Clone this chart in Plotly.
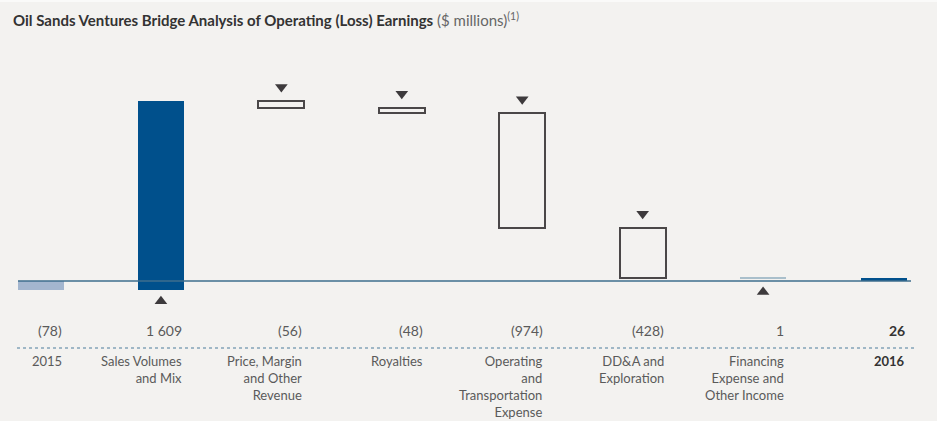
import plotly.graph_objects as go

# ---- data ----
categories = ["2015", "Sales Volumes<br>and Mix", "Price, Margin<br>and Other<br>Revenue", "Royalties",
              "Operating<br>and<br>Transportation<br>Expense", "DD&A and<br>Exploration",
              "Financing<br>Expense and<br>Other Income", "<b>2016</b>"]
changes = [-78, 1609, -56, -48, -974, -428, 1, 26]
value_labels = ["(78)", "1 609", "(56)", "(48)", "(974)", "(428)", "1", "<b>26</b>"]
kinds = ["total", "inc", "dec", "dec", "dec", "dec", "inc", "total"]

# ---- layout constants ----
W, H = 937, 421
BG = "#F3F2F0"
PX_PER_UNIT = 0.1175
ZERO_PX = 281
X0_PX, DX_PX = 40.5, 120.43
y_top = ZERO_PX / PX_PER_UNIT
y_bot = -(H - ZERO_PX) / PX_PER_UNIT
x_lo = -X0_PX / DX_PX
x_hi = (W - X0_PX) / DX_PX
BAR_W = 46 / DX_PX

def px2y(p):
    return (ZERO_PX - p) / PX_PER_UNIT

def px2x(p):
    return (p - X0_PX) / DX_PX

# compute bases
bases, heights = [], []
running = 0
for c, k in zip(changes, kinds):
    if k == "total":
        bases.append(0); heights.append(c); running = c
    else:
        if c >= 0:
            bases.append(running); heights.append(c)
        else:
            bases.append(running + c); heights.append(-c)
        running += c

xs = list(range(len(categories)))
fig = go.Figure()

fill_colors = ["#A3B6CF", "#00508C", BG, BG, BG, BG, "#A9BFCB", "#00508C"]
line_colors = ["#A3B6CF", "#00508C", "#4A4748", "#4A4748", "#4A4748", "#4A4748", "#A9BFCB", "#00508C"]
line_widths = [0, 0, 2, 2, 2, 2, 2, 0]

fig.add_trace(go.Bar(x=xs, y=heights, base=bases, width=BAR_W,
                     marker=dict(color=fill_colors, line=dict(color=line_colors, width=line_widths)),
                     hoverinfo="skip", showlegend=False))

# zero line
fig.add_shape(type="line", x0=px2x(18), x1=px2x(911), y0=0, y1=0,
              line=dict(color="#3E6E8E", width=1.5), layer="above")
# dotted separator
fig.add_shape(type="line", x0=px2x(17), x1=px2x(917), y0=px2y(348), y1=px2y(348),
              line=dict(color="#4C7C9C", width=1.2, dash="dot"))
# thin light band at the top edge
fig.add_shape(type="rect", xref="paper", yref="paper", x0=0, x1=1, y0=1 - 2 / H, y1=1,
              fillcolor="#FAFAF9", line=dict(width=0), layer="below")

# triangles
OFF = 12 / PX_PER_UNIT
tx_d, ty_d, tx_u, ty_u = [], [], [], []
for i, (b, h, k) in enumerate(zip(bases, heights, kinds)):
    if k == "dec":
        tx_d.append(i); ty_d.append(b + h + OFF + 2 / PX_PER_UNIT)
    elif k == "inc":
        tx_u.append(i); ty_u.append(min(b, 0) - OFF + 1 / PX_PER_UNIT)
fig.add_trace(go.Scatter(x=tx_d, y=ty_d, mode="markers", hoverinfo="skip", showlegend=False,
                         marker=dict(symbol="triangle-down", size=11, color="#3D3A3C")))
fig.add_trace(go.Scatter(x=tx_u, y=ty_u, mode="markers", hoverinfo="skip", showlegend=False,
                         marker=dict(symbol="triangle-up", size=11, color="#3D3A3C")))

FONT = "Lato"
ann = []
for i in xs:
    right = i + BAR_W / 2
    bold = i == len(xs) - 1
    ann.append(dict(x=right, y=px2y(330), text=value_labels[i], showarrow=False, xanchor="right",
                    yanchor="middle", font=dict(family=FONT, size=14, color="#333" if bold else "#5A5A5A")))
    ann.append(dict(x=right, y=px2y(351), text=categories[i], showarrow=False, xanchor="right",
                    yanchor="top", align="right",
                    font=dict(family=FONT, size=13, color="#333" if bold else "#5A5A5A")))
ann.append(dict(x=px2x(11), y=px2y(19), xanchor="left", yanchor="middle", showarrow=False,
                text="<b>Oil Sands Ventures Bridge Analysis of Operating (Loss) Earnings</b>"
                     "<span style='color:#666'> ($ millions)<sup>(1)</sup></span>",
                font=dict(family=FONT, size=15, color="#333")))

fig.update_layout(width=W, height=H, margin=dict(l=0, r=0, t=0, b=0),
                  paper_bgcolor=BG, plot_bgcolor=BG, annotations=ann, bargap=0,
                  xaxis=dict(range=[x_lo, x_hi], visible=False, fixedrange=True),
                  yaxis=dict(range=[y_bot, y_top], visible=False, fixedrange=True))
fig.write_html("out.html", config={"displayModeBar": False},
               post_script="document.body.style.margin='0';document.body.style.overflow='hidden';")
